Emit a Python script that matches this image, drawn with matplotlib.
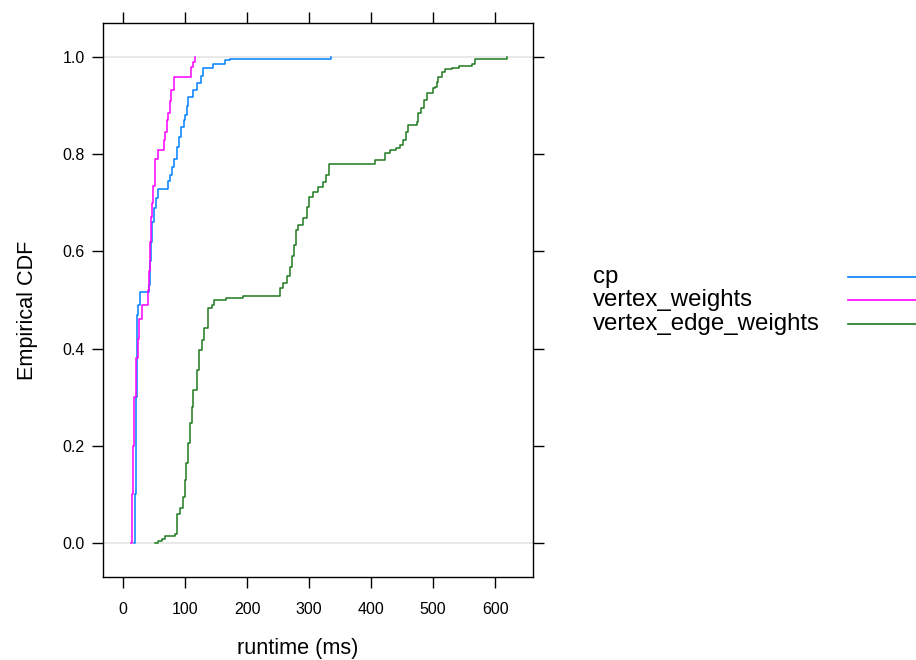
import numpy as np
import matplotlib
matplotlib.use("Agg")
import matplotlib.pyplot as plt
from matplotlib.lines import Line2D

plt.rcParams['font.family'] = ['Liberation Sans', 'DejaVu Sans']

# ECDF breakpoints (runtime in ms, cumulative fraction)
cp_x = [17.7, 19.4, 20.2, 21.0, 21.8, 22.6, 24.2, 27.4, 41.9, 43.5, 45.2, 46.8,
        50.0, 53.2, 56.5, 72.6, 75.8, 79.0, 82.3, 87.1, 90.3, 93.5, 98.4, 100.0,
        103.2, 104.8, 112.9, 119.4, 125.8, 129.0, 145.2, 164.5, 172.6, 335.5]
cp_y = [0.0, 0.1, 0.2, 0.3, 0.4, 0.47, 0.49, 0.516, 0.53, 0.58, 0.62, 0.66,
        0.69, 0.71, 0.728, 0.745, 0.757, 0.774, 0.79, 0.815, 0.835, 0.856, 0.87, 0.88,
        0.90, 0.918, 0.932, 0.946, 0.96, 0.977, 0.986, 0.994, 0.996, 1.0]

vw_x = [12.9, 14.5, 16.1, 18.5, 21.0, 23.4, 25.8, 30.6, 40.3, 41.9, 43.5, 45.2,
        46.8, 48.4, 51.6, 56.5, 66.1, 67.7, 71.0, 72.6, 75.8, 77.4, 82.3, 109.7,
        112.9, 116.1]
vw_y = [0.0, 0.1, 0.2, 0.3, 0.38, 0.42, 0.46, 0.49, 0.52, 0.56, 0.62, 0.67,
        0.70, 0.735, 0.79, 0.808, 0.83, 0.845, 0.87, 0.885, 0.91, 0.932, 0.959, 0.979,
        0.99, 1.0]

vew_x = [51.6, 56.5, 62.9, 67.7, 83.9, 87.1, 91.9, 96.8, 99.2, 101.6, 104.8, 108.1,
         110.5, 112.9, 119.4, 122.6, 127.4, 130.6, 137.1, 143.5, 146.8, 166.1, 193.5,
         253.2, 258.1, 264.5, 269.4, 272.6, 275.8, 279.0, 282.3, 290.3, 296.8, 300.0,
         306.5, 314.5, 322.6, 327.4, 332.3, 406.5, 422.6, 430.6, 440.3, 446.8, 451.6,
         456.5, 459.7, 474.2, 475.8, 480.6, 485.5, 490.3, 500.0, 503.2, 506.5, 508.1,
         514.5, 519.4, 530.6, 541.9, 562.9, 567.7, 619.4]
vew_y = [0.0, 0.004, 0.008, 0.014, 0.018, 0.06, 0.072, 0.095, 0.13, 0.165, 0.205, 0.247,
         0.28, 0.315, 0.356, 0.397, 0.418, 0.442, 0.483, 0.49, 0.5, 0.504, 0.508,
         0.525, 0.535, 0.55, 0.568, 0.59, 0.613, 0.644, 0.654, 0.669, 0.691, 0.712,
         0.722, 0.733, 0.743, 0.757, 0.780, 0.788, 0.802, 0.808, 0.813, 0.819, 0.829,
         0.846, 0.860, 0.866, 0.885, 0.895, 0.912, 0.926, 0.936, 0.938, 0.949, 0.959,
         0.969, 0.975, 0.977, 0.981, 0.986, 0.996, 1.0]

labels = ["cp", "vertex_weights", "vertex_edge_weights"]
colors = ["#0080ff", "#ff00ff", "#1f7a1f"]
xticks = [0, 100, 200, 300, 400, 500, 600]
yticks = [0.0, 0.2, 0.4, 0.6, 0.8, 1.0]

fig = plt.figure(figsize=(9.16, 6.6), dpi=100)
ax = fig.add_axes([0.1124, 0.1258, 0.4694, 0.8394])

# reference lines at 0 and 1
for r in (0, 1):
    ax.axhline(r, color="#e5e5e5", lw=1.2, zorder=1)

series = [(cp_x, cp_y), (vw_x, vw_y), (vew_x, vew_y)]
for (xs, ys), c in zip(series, colors):
    ax.step(xs, ys, where="post", color=c, lw=1.1, zorder=2)

ax.set_xlim(-32.3, 661)
ax.set_ylim(-0.07, 1.07)
ax.set_xticks(xticks)
ax.set_yticks(yticks)
ax.set_xticklabels([str(t) for t in xticks])
ax.set_yticklabels(["%.1f" % t for t in yticks])
ax.tick_params(direction="out", length=8, width=1, labelsize=11.5, pad=10,
               top=True, right=True, labeltop=False, labelright=False)
ax.tick_params(axis="y", pad=5)
for s in ax.spines.values():
    s.set_linewidth(1)

ax.set_xlabel("runtime (ms)", fontsize=15.6)
ax.set_ylabel("Empirical CDF", fontsize=15.6)
ax.xaxis.set_label_coords(0.453, -0.110)
ax.yaxis.set_label_coords(-0.150, 0.482)

# key: text left, line right
ky = [277, 300, 324]
for lab, c, yy in zip(labels, colors, ky):
    fy = 1 - yy / 660
    fig.text(593 / 916, fy, lab, fontsize=17.3, ha="left", va="center")
    fig.add_artist(Line2D([848 / 916, 1.0], [fy, fy], color=c, lw=1.2,
                          transform=fig.transFigure))

fig.savefig("out.png", dpi=100)
